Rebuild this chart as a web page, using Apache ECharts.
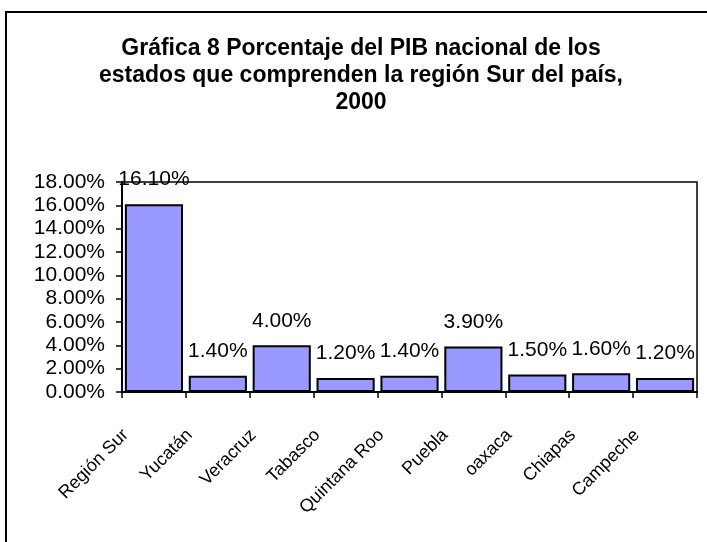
<!DOCTYPE html>
<html>
<head>
<meta charset="utf-8">
<script src="https://cdn.jsdelivr.net/npm/echarts@6/dist/echarts.min.js"></script>
<style>
  html, body { margin: 0; padding: 0; width: 707px; height: 542px; overflow: hidden; background: #fff; }
  .marco { position: absolute; left: 5px; top: 11px; border: 2px solid #000; background: #fff; }
  #grafica { width: 708px; height: 560px; }
</style>
</head>
<body>
<div class="marco"><div id="grafica"></div></div>
<script>
// estados de la region sur
const estados = ['Región Sur', 'Yucatán', 'Veracruz', 'Tabasco', 'Quintana Roo', 'Puebla', 'oaxaca', 'Chiapas', 'Campeche']
// porcentaje del PIB nacional
const porcentajes = [16.10, 1.40, 4.00, 1.20, 1.40, 3.90, 1.50, 1.60, 1.20]
const ejeY = {min: 0, max: 18, interval: 2}

const fuente = "'Liberation Sans', Arial, sans-serif"
const myChart = echarts.init(document.getElementById('grafica'))
const option = {
  animation: false,
  title: {
    text: 'Gráfica 8 Porcentaje del PIB nacional de los\nestados que comprenden la región Sur del país,\n2000',
    left: 'center',
    top: 17,
    textStyle: {
      fontFamily: fuente,
      fontSize: 23,
      fontWeight: 'bold',
      lineHeight: 27,
      color: '#000'
    }
  },
  grid: {
    left: 115,
    right: 18,
    top: 169,
    height: 210,
    show: true,
    backgroundColor: '#fff',
    borderColor: '#000',
    borderWidth: 1.5,
    outerBoundsMode: 'none'
  },
  xAxis: {
    type: 'category',
    data: estados,
    axisLine: {lineStyle: {color: '#000', width: 2}},
    axisTick: {show: true, length: 6, lineStyle: {color: '#000', width: 1.5}},
    axisLabel: {
      interval: 0,
      rotate: 45,
      margin: 12,
      padding: [0, 40, 0, 0],
      fontFamily: fuente,
      fontSize: 18,
      color: '#000'
    }
  },
  yAxis: {
    type: 'value',
    min: ejeY.min,
    max: ejeY.max,
    interval: ejeY.interval,
    splitLine: {show: false},
    axisLine: {show: true, lineStyle: {color: '#000', width: 2}},
    axisTick: {show: true, length: 6, lineStyle: {color: '#000', width: 1.5}},
    axisLabel: {
      margin: 17,
      fontFamily: fuente,
      fontSize: 21,
      color: '#000',
      formatter: v => v.toFixed(2) + '%'
    }
  },
  series: [
    {
      type: 'bar',
      data: porcentajes,
      barCategoryGap: '9%',
      itemStyle: {color: '#9999FF', borderColor: '#000', borderWidth: 2},
      label: {
        show: true,
        position: 'top',
        distance: 14,
        fontFamily: fuente,
        fontSize: 21,
        lineHeight: 21,
        color: '#000',
        formatter: p => p.value.toFixed(2) + '%'
      }
    }
  ]
}
myChart.setOption(option)
</script>
</body>
</html>
